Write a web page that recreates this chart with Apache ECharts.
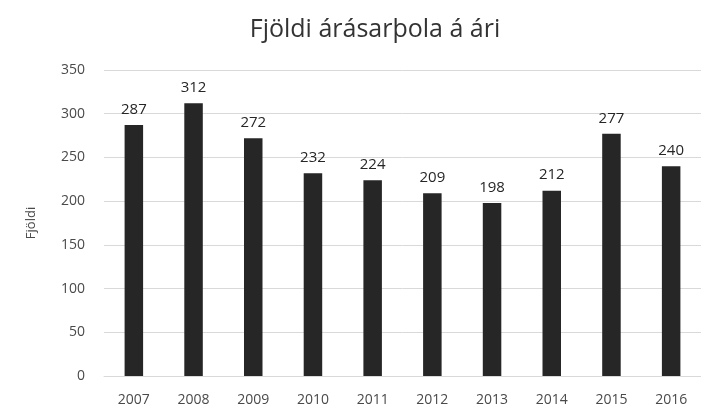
<!DOCTYPE html>
<html>
<head>
<meta charset="utf-8">
<script src="https://cdn.jsdelivr.net/npm/echarts@6/dist/echarts.min.js"></script>
<style>
  html, body { margin: 0; padding: 0; background: #fff; }
  #chart { width: 701px; height: 411px; }
</style>
</head>
<body>
<div id="chart"></div>
<script>
// data
const years = ["2007", "2008", "2009", "2010", "2011", "2012", "2013", "2014", "2015", "2016"];
const counts = [287, 312, 272, 232, 224, 209, 198, 212, 277, 240];
const yTicks = { min: 0, max: 350, interval: 50 };

const font = "'Open Sans', sans-serif";

const chart = echarts.init(document.getElementById("chart"));
const option = {
  animation: false,
  title: {
    text: "Fjöldi árásarþola á ári",
    left: 370,
    textAlign: "center",
    top: 12,
    textStyle: { color: "#333", fontSize: 25, fontWeight: "normal", fontFamily: font },
  },
  grid: { left: 104, right: -8, top: 70, bottom: 35, containLabel: false },
  xAxis: {
    type: "category",
    data: years,
    axisTick: { show: false },
    axisLine: { lineStyle: { color: "#d9d9d9" } },
    axisLabel: { color: "#4a4a4a", fontSize: 14, margin: 17, fontFamily: font },
  },
  yAxis: {
    type: "value",
    min: yTicks.min,
    max: yTicks.max,
    interval: yTicks.interval,
    name: "Fjöldi",
    nameLocation: "middle",
    nameGap: 66,
    nameTextStyle: { color: "#4a4a4a", fontSize: 13, fontFamily: font },
    axisLine: { show: false },
    axisTick: { show: false },
    axisLabel: { color: "#4a4a4a", fontSize: 14, margin: 19, fontFamily: font },
    splitLine: { lineStyle: { color: "#d9d9d9" } },
  },
  series: [
    {
      type: "bar",
      data: counts,
      barWidth: "31%",
      itemStyle: { color: "#262626" },
      label: {
        show: true,
        position: "top",
        distance: 8,
        color: "#262626",
        fontSize: 15,
        fontFamily: font,
      },
    },
  ],
};
chart.setOption(option);
</script>
</body>
</html>
